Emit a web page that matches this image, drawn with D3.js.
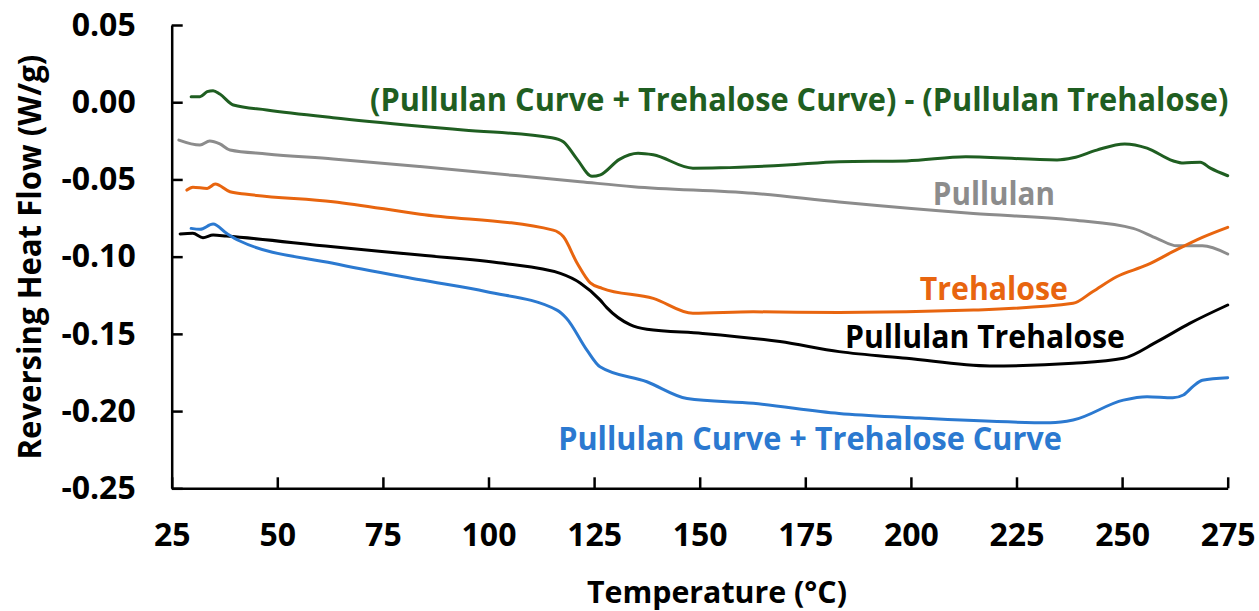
<!DOCTYPE html>
<html>
<head>
<meta charset="utf-8">
<script src="https://cdn.jsdelivr.net/npm/d3@7"></script>
<style>
  html, body { margin: 0; padding: 0; background: #fff; }
  svg { display: block; font-family: "Open Sans", "Lato", sans-serif; }
</style>
</head>
<body>
<svg id="chart" width="1259" height="611"></svg>
<script>
// ---- data ----
const xTicks = [25, 50, 75, 100, 125, 150, 175, 200, 225, 250, 275];
const yTicks = [0.05, 0.00, -0.05, -0.10, -0.15, -0.20, -0.25];

const diffT = [29.6, 31.7, 33.4, 34.8, 36.4, 39.6, 47.5, 63.2, 83.8, 94, 115, 117.7, 121, 124.5, 126.5, 131, 135.4, 139, 148.4, 154.8, 170.6, 183, 199, 213, 234.6, 238.4, 244, 250.6, 255.9, 262, 264.5, 268.5, 270.9, 275];
const diffV = [0.0036, 0.0036, 0.0068, 0.0075, 0.0053, -0.0018, -0.005, -0.010, -0.0155, -0.018, -0.023, -0.0256, -0.037, -0.048, -0.047, -0.037, -0.033, -0.034, -0.0427, -0.0425, -0.0407, -0.0385, -0.038, -0.0353, -0.0374, -0.036, -0.031, -0.027, -0.0297, -0.0379, -0.0394, -0.0388, -0.0427, -0.0476];

const pullulanT = [26.7, 31.7, 34, 36.4, 38.8, 47.5, 63.2, 83.8, 121.7, 134.3, 162.7, 183, 214.8, 238.4, 252.6, 258.2, 263, 269, 275];
const pullulanV = [-0.0245, -0.0277, -0.0251, -0.027, -0.031, -0.0335, -0.0368, -0.0417, -0.0515, -0.0547, -0.059, -0.0646, -0.072, -0.0763, -0.0817, -0.0881, -0.093, -0.093, -0.0983];

const trehaloseT = [28.6, 30, 33.4, 35.3, 38.8, 42.8, 63.2, 83.8, 115.3, 117.7, 121, 124.1, 126.9, 139, 148.4, 162.7, 183, 214.8, 238.4, 243, 248.7, 255.9, 262, 269, 275];
const trehaloseV = [-0.0569, -0.0551, -0.0558, -0.053, -0.058, -0.0596, -0.0644, -0.0725, -0.0828, -0.087, -0.1043, -0.117, -0.1205, -0.127, -0.1367, -0.1357, -0.1362, -0.1346, -0.1302, -0.1227, -0.113, -0.1054, -0.0968, -0.0875, -0.081];

const pullTreT = [27, 30, 32.4, 34.8, 38, 63.2, 83.8, 103.5, 117, 121.7, 126.4, 128, 133.5, 137.5, 150.7, 169, 183, 199, 218.7, 238.4, 250.3, 258.3, 266, 275];
const pullTreV = [-0.0853, -0.0849, -0.0877, -0.086, -0.0867, -0.0936, -0.099, -0.1043, -0.1108, -0.117, -0.128, -0.133, -0.144, -0.147, -0.1497, -0.155, -0.1615, -0.1658, -0.1708, -0.169, -0.1658, -0.155, -0.1432, -0.1313];

const sumT = [29.6, 31.7, 34.8, 38, 41, 63.2, 83.8, 99.6, 116.2, 118.5, 123.3, 126.4, 137.5, 147, 162.7, 183, 199, 233, 238.4, 250.3, 255.9, 262, 264.5, 266.8, 269, 275];
const sumV = [-0.0817, -0.0823, -0.0789, -0.0849, -0.0897, -0.1043, -0.115, -0.1227, -0.1346, -0.140, -0.1605, -0.1713, -0.181, -0.1918, -0.195, -0.2015, -0.2041, -0.2075, -0.2058, -0.1929, -0.1907, -0.1914, -0.1896, -0.184, -0.180, -0.1784];

const seriesNames = ["(Pullulan Curve + Trehalose Curve) - (Pullulan Trehalose)", "Pullulan", "Trehalose", "Pullulan Trehalose", "Pullulan Curve + Trehalose Curve"];
const seriesColors = ["#1f5e21", "#8c8c8c", "#e8650f", "#000000", "#2b79d0"];
const seriesT = [diffT, pullulanT, trehaloseT, pullTreT, sumT];
const seriesV = [diffV, pullulanV, trehaloseV, pullTreV, sumV];
// label placement in data units: [start temp, end temp, baseline value]
const labelPos = [[71.95, 275.2, -0.0057], [205.2, 234.1, -0.0666], [202.1, 237.2, -0.1281], [184.4, 250.7, -0.1592], [116.5, 235.8, -0.2252]];

const xTitle = "Temperature (°C)";
const yTitle = "Reversing Heat Flow (W/g)";

// ---- drawing ----
const svg = d3.select("#chart");
const x = d3.scaleLinear().domain([25, 275]).range([171.7, 1227.7]);
const y = d3.scaleLinear().domain([-0.25, 0.05]).range([488.3, 25]);

const line = d3.line()
  .x(d => x(d[0]))
  .y(d => y(d[1]))
  .curve(d3.curveMonotoneX);

seriesT.forEach((T, i) => {
  const pts = T.map((t, j) => [t, seriesV[i][j]]);
  svg.append("path")
    .datum(pts)
    .attr("d", line)
    .attr("fill", "none")
    .attr("stroke", seriesColors[i])
    .attr("stroke-width", 3)
    .attr("stroke-linejoin", "round")
    .attr("stroke-linecap", "round");
});

// axes
const xAxis = d3.axisBottom(x).tickValues(xTicks).tickSizeInner(-11).tickSizeOuter(0).tickPadding(35)
  .tickFormat(d3.format("d"));
const yAxis = d3.axisLeft(y).tickValues(yTicks).tickSizeInner(-11).tickSizeOuter(0).tickPadding(36)
  .tickFormat(d3.format(".2f"));

const gx = svg.append("g").attr("transform", `translate(0,${y(-0.25)})`).call(xAxis);
const gy = svg.append("g").attr("transform", `translate(${x(25)},0)`).call(yAxis);

[gx, gy].forEach(g => {
  g.selectAll(".domain").attr("stroke", "#000").attr("stroke-width", 2.5);
  g.selectAll(".tick line").attr("stroke", "#000").attr("stroke-width", 2.5);
  g.selectAll(".tick text")
    .attr("fill", "#000")
    .style("font-family", '"Open Sans", sans-serif')
    .style("font-weight", 700)
    .style("font-size", "32px");
});
gy.selectAll(".tick text").text(d => d3.format(".2f")(d).replace("−", "-"));

// helper: text fitted horizontally to a target width via a scale transform
function fittedText(str, x0, y0, width, size, color, rotate) {
  const t = svg.append("text")
    .attr("x", 0).attr("y", 0)
    .style("font-weight", 700).style("font-size", size + "px")
    .attr("fill", color)
    .text(str);
  const natural = t.node().getComputedTextLength();
  const sx = width / natural;
  if (rotate) {
    // centred at (x0,y0), baseline-oriented vertical text
    t.attr("transform", `translate(${x0},${y0}) rotate(-90) scale(${sx},1) translate(${-natural / 2},0)`);
  } else {
    t.attr("transform", `translate(${x0},${y0}) scale(${sx},1)`);
  }
  return t;
}

// axis titles
fittedText(xTitle, 717 - 130, 603, 260, 31, "#000", false);
fittedText(yTitle, 41, 257, 405, 32, "#000", true);

// series labels
seriesNames.forEach((name, i) => {
  const p = labelPos[i];
  fittedText(name, x(p[0]), y(p[2]), x(p[1]) - x(p[0]), 32, seriesColors[i], false);
});
</script>
</body>
</html>
